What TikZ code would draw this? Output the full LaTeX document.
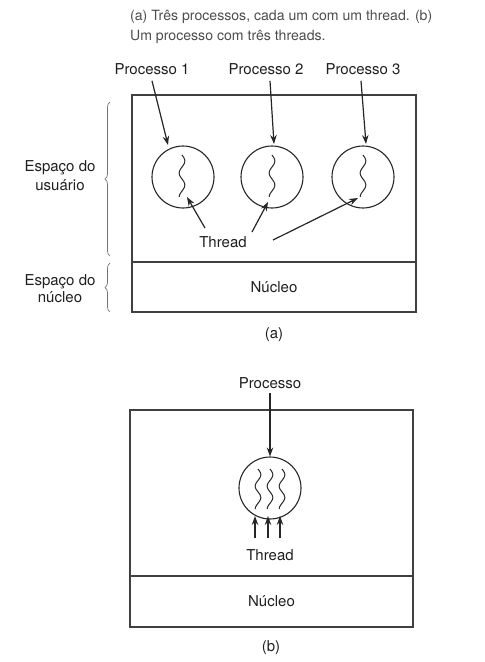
\documentclass[tikz,border=0pt]{standalone}
\usepackage{fontspec}
\setmainfont{TeX Gyre Heros}
\usetikzlibrary{arrows.meta,decorations.pathreplacing,calc}
\begin{document}
\begin{tikzpicture}[x=1pt,y=-1pt,
  arr/.style={-{Stealth[length=9pt,width=6.5pt]}, line width=1.2pt, draw=black!85},
  lbl/.style={font=\fontsize{15}{17}\selectfont, text=black!88, inner sep=1pt},
  captxt/.style={font=\fontsize{14.1}{20}\selectfont, text=black!70, inner sep=0pt, align=left, anchor=north west},
  proc/.style={circle, draw=black!85, line width=1.1pt, minimum size=62pt, inner sep=0pt},
  region/.style={draw=black!75, line width=1.3pt, inner sep=0pt},
  br/.style={decorate, decoration={brace, amplitude=5pt}, draw=black!55, line width=0.7pt},
  wave/.style={draw=black!85, line width=1pt},
]
\useasboundingbox (0,0) rectangle (485,662);

% caption
\node[captxt] (caption) at (130,10) {(a) Três processos, cada um com um thread. (b)\\Um processo com três threads.};

% ---------- (a) ----------
\node[region, minimum width=284pt, minimum height=167pt] (user) at (274,178.5) {};
\node[region, minimum width=284pt, minimum height=50pt, lbl, inner sep=0pt] (kern) at (274,287) {Núcleo};

\node[proc] (c1) at (183,177) {};
\node[proc] (c2) at (272,177) {};
\node[proc] (c3) at (363,177) {};

\foreach \cx in {182,272,363}{
  \draw[wave] plot[variable=\t, domain=0:1, samples=40, smooth] ({\cx+2.8*sin(\t*630)}, {155+42*\t});
}

\node[lbl] (p1) at (152,69) {Processo 1};
\node[lbl] (p2) at (266,69) {Processo 2};
\node[lbl] (p3) at (363,69) {Processo 3};
\coordinate (e1) at (168,145);
\coordinate (e2) at (274,144);
\coordinate (e3) at (366,144);
\draw[arr] ([yshift=-5pt]p1.south) -- (e1);
\draw[arr] ([xshift=4pt,yshift=-5pt]p2.south) -- (e2);
\draw[arr] ([xshift=-2pt,yshift=-5pt]p3.south) -- (e3);

\node[lbl] (thread) at (223,242) {Thread};
\coordinate (t1) at (187,197);
\coordinate (t2) at (268,202);
\coordinate (t3) at (358,198);
\draw[arr] ([shift={(-18,-14)}]thread.center) -- (t1);
\draw[arr] ([shift={(29,-10)}]thread.center) -- (t2);
\draw[arr] ([shift={(50,-2)}]thread.center) -- (t3);

\coordinate (bu1) at (110,256);
\coordinate (bu2) at (110,102);
\coordinate (bk1) at (110,312);
\coordinate (bk2) at (110,263);
\draw[br] (bu1) -- (bu2);
\draw[br] (bk1) -- (bk2);
\node[lbl, align=center, font=\fontsize{15}{19}\selectfont] (us) at (60,176) {Espaço do\\usuário};
\node[lbl, align=center, font=\fontsize{15}{17}\selectfont] (ks) at (60,289) {Espaço do\\núcleo};

\node[lbl] (la) at (274,335) {(a)};

% ---------- (b) ----------
\node[region, minimum width=283pt, minimum height=166pt] (user2) at (271.5,493) {};
\node[region, minimum width=283pt, minimum height=51pt, lbl, inner sep=0pt] (kern2) at (271.5,601.5) {Núcleo};

\node[proc] (c4) at (270,488) {};
\foreach \cx in {258,270,282}{
  \draw[wave] plot[variable=\t, domain=0:1, samples=40, smooth] ({\cx+2.8*sin(\t*630)}, {469+40*\t});
}
\node[lbl] (p4) at (270,383) {Processo};
\draw[arr, shorten <=3pt] (p4) -- (c4);

\node[lbl] (thread2) at (270,555) {Thread};
\foreach \dx/\n in {-15/a,-2/b,10/c}{
  \coordinate (tt\n) at (270+\dx,516);
  \draw[arr] ([xshift=\dx pt, yshift=10pt]thread2.north) -- (tt\n);
}

\node[lbl] (lb) at (271,648) {(b)};
\end{tikzpicture}
\end{document}
